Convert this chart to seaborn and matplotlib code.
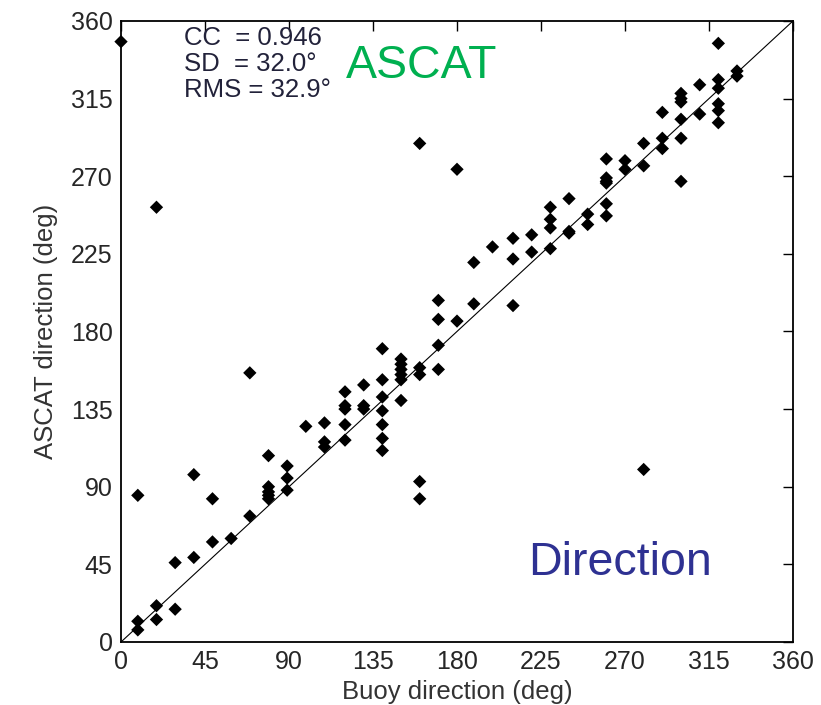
import numpy as np
import pandas as pd
import matplotlib
matplotlib.use("Agg")
import matplotlib.pyplot as plt
import seaborn as sns

# buoy direction vs ASCAT direction (deg)
buoy = [0,
        9, 9, 9,
        19, 19, 19,
        29, 29,
        39, 39,
        49, 49,
        59,
        69, 69,
        79, 79, 79, 79, 79,
        89, 89, 89,
        99,
        109, 109, 109,
        120, 120, 120, 120, 120,
        130, 130, 130,
        140, 140, 140, 140, 140, 140, 140,
        150, 150, 150, 150, 150, 150,
        160, 160, 160, 160, 160,
        170, 170, 170, 170,
        180, 180,
        189, 189,
        199,
        210, 210, 210,
        220, 220,
        230, 230, 230, 230,
        240, 240, 240,
        250, 250,
        260, 260, 260, 260, 260, 260,
        270, 270,
        280, 280, 280,
        290, 290, 290,
        300, 300, 300, 300, 300, 300,
        310, 310,
        320, 320, 320, 320, 320, 320,
        330, 330]
ascat = [348,
         85, 12, 7,
         252, 21, 13,
         46, 19,
         97, 49,
         83, 58,
         60,
         156, 73,
         108, 90, 87, 85, 83,
         102, 95, 88,
         125,
         127, 116, 113,
         145, 137, 135, 126, 117,
         149, 137, 135,
         170, 152, 142, 134, 126, 118, 111,
         164, 161, 158, 155, 152, 140,
         289, 159, 155, 93, 83,
         198, 187, 172, 158,
         274, 186,
         220, 196,
         229,
         234, 222, 195,
         236, 226,
         252, 245, 240, 228,
         257, 238, 237,
         248, 242,
         280, 269, 267, 266, 254, 247,
         279, 274,
         289, 276, 100,
         307, 292, 286,
         318, 315, 313, 303, 292, 267,
         323, 306,
         347, 326, 321, 312, 308, 301,
         331, 328]

one_to_one = [0, 360]
ticks = [0, 45, 90, 135, 180, 225, 270, 315, 360]
stats_lines = ["CC  = 0.946", "SD  = 32.0\u00b0", "RMS = 32.9\u00b0"]

df = pd.DataFrame({"buoy": buoy, "ascat": ascat})

sns.set_theme(style="white")
plt.rcParams["font.family"] = ["Liberation Sans", "DejaVu Sans"]

fig = plt.figure(figsize=(8.21, 7.05), dpi=100)
ax = fig.add_axes([0.1474, 0.0894, 0.8185, 0.8809])

ax.plot(one_to_one, one_to_one, color="black", linewidth=0.8, zorder=1)
sns.scatterplot(data=df, x="buoy", y="ascat", marker="D", s=46,
                color="black", edgecolor="none", ax=ax, zorder=2, clip_on=False)

ax.set_xlim(0, 360)
ax.set_ylim(0, 360)
ax.set_xticks(ticks)
ax.set_yticks(ticks)
ax.tick_params(direction="in", length=7, width=1.0, top=True, right=True,
               labelsize=18, colors="black", labelcolor="#262626", pad=6)
for sp in ax.spines.values():
    sp.set_color("black")
    sp.set_linewidth(1.3)

ax.set_xlabel("Buoy direction (deg)", fontsize=18.5, color="#333333", labelpad=4)
ax.set_ylabel("ASCAT direction (deg)", fontsize=18.5, color="#333333", labelpad=9)

ys = [0.973, 0.931, 0.889]
for line, yy in zip(stats_lines, ys):
    ax.text(0.094, yy, line, transform=ax.transAxes, fontsize=18.5,
            color="#22223a", va="center", ha="left")

ax.text(0.447, 0.927, "ASCAT", transform=ax.transAxes, fontsize=33.5,
        color="#00b050", va="center", ha="center")
ax.text(0.743, 0.127, "Direction", transform=ax.transAxes, fontsize=33.5,
        color="#2e3192", va="center", ha="center")

fig.savefig("out.png", dpi=100)
